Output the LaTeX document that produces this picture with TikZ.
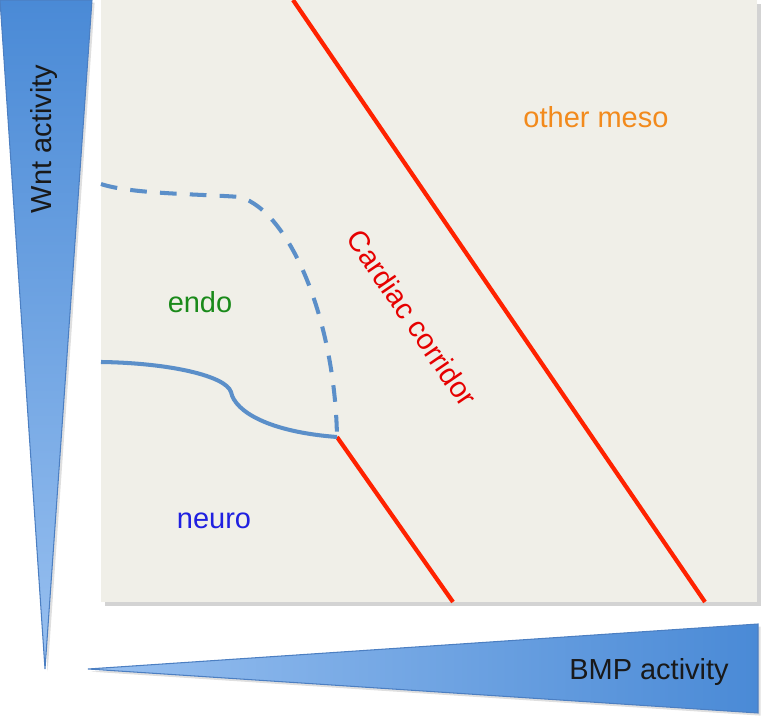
\documentclass[tikz,border=0pt]{standalone}
\usepackage{fontspec}
\setmainfont{Liberation Sans}
\usetikzlibrary{shadows}

\definecolor{panelbg}{HTML}{F0EFE8}
\definecolor{gradDark}{HTML}{4A8AD6}
\definecolor{gradLight}{HTML}{98C0F0}
\definecolor{gradEdge}{HTML}{4C7FC2}
\definecolor{curveBlue}{HTML}{5B8FC9}
\definecolor{lineRed}{HTML}{FF2200}
\definecolor{textRed}{HTML}{E60000}
\definecolor{textOrange}{HTML}{F28A1C}
\definecolor{textGreen}{HTML}{1A8A1A}
\definecolor{textBlue}{HTML}{2020E0}

\begin{document}
\begin{tikzpicture}[x=0.02cm, y=-0.02cm,
    zonetext/.style={font=\fontsize{16.5}{20}\selectfont, inner sep=0pt},
    boundary/.style={curveBlue, line width=2.3pt},
    corridorline/.style={lineRed, line width=2.4pt},
    wedge/.style={draw=gradEdge, line width=0.6pt,
        drop shadow={shadow xshift=1.5pt, shadow yshift=-1.5pt, opacity=0.25}}]
    \useasboundingbox (0,0) rectangle (768,722);

    % Draw the panel
    \fill[panelbg, drop shadow={shadow xshift=2.5pt, shadow yshift=-2.5pt, opacity=0.35}]
        (101,0) rectangle (757,602);

    % Draw the activity wedges
    \shadedraw[wedge, top color=gradDark, bottom color=gradLight]
        (0,0) -- (92,0) -- (45,669) -- cycle;
    \shadedraw[wedge, left color=gradLight, right color=gradDark]
        (88,669) -- (758,624) -- (758,713) -- cycle;
    \node[zonetext, rotate=90, text=black!90] (wnt) at (44,139) {Wnt activity};
    \node[zonetext, text=black!90] (bmp) at (649,672) {BMP activity};

    % Corridor borders
    \coordinate (upperTop) at (293,0);
    \coordinate (upperEnd) at (705,602);
    \coordinate (junction) at (337,437);
    \coordinate (lowerEnd) at (453,602);
    \draw[corridorline] (upperTop) -- (upperEnd);
    \draw[corridorline] (junction) -- (lowerEnd);

    % Germ layer boundaries
    \draw[boundary, dash pattern=on 9.5pt off 7.5pt]
        (101,184) .. controls (130,194) and (200,194) .. (240,197)
        .. controls (290,212) and (335,320) .. (junction);
    \draw[boundary]
        (101,362) .. controls (170,363) and (226,376) .. (231,392)
        .. controls (235,412) and (270,432) .. (junction);

    % Region labels
    \node[zonetext, text=textOrange] (meso) at (596,117) {other meso};
    \node[zonetext, text=textGreen] (endo) at (200,302) {endo};
    \node[zonetext, text=textBlue] (neuro) at (214,521) {neuro};
    \node[zonetext, text=textRed, rotate=-55.6] (corridor) at (412,318) {Cardiac corridor};
\end{tikzpicture}
\end{document}
